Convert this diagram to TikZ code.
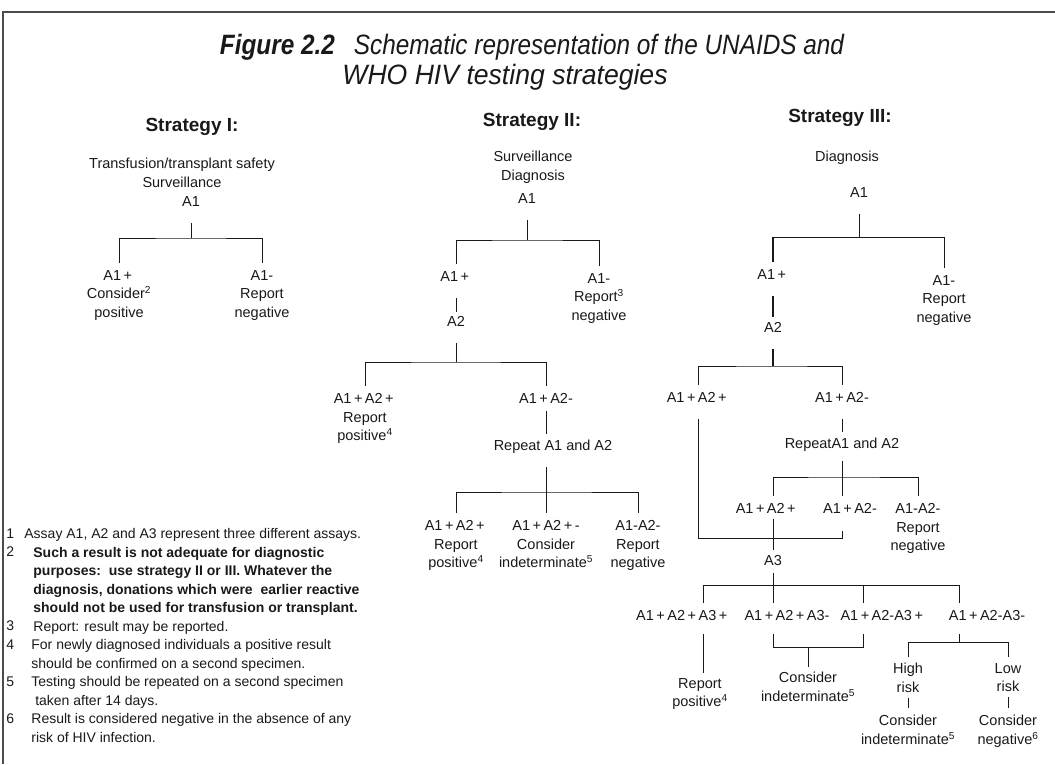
\documentclass[tikz,border=0pt]{standalone}
\usepackage{fontspec}
\setmainfont{Liberation Sans}
\newcommand{\aplus}{\kern2.5pt+\kern2.5pt}

\begin{document}
\begin{tikzpicture}[x=1pt,y=-1pt,line width=0.8pt,color=black!90,
  lbl/.style={inner sep=0pt,align=center,anchor=north,text depth=4pt,font=\fontsize{14.5}{18.5}\selectfont},
  head/.style={inner sep=0pt,font=\fontsize{19}{22}\selectfont\bfseries},
  note/.style={inner sep=0pt,anchor=north west,align=left,font=\fontsize{14}{18.5}\selectfont},
  stem/.style={shorten <=12pt},
  branch/.style={shorten <=7pt,shorten >=7pt}]
\useasboundingbox (0,0) rectangle (1055,764);
\draw[line width=1.5pt,black!70] (1055,12) -- (3,12) -- (3,764);

% title
\node[anchor=base,inner sep=0pt] (title1) at (532,54) {\fontsize{28}{32}\selectfont\itshape\scalebox{0.87}[1]{\textbf{Figure 2.2}\hspace{0.5em} Schematic representation of the UNAIDS and}};
\node[anchor=base,inner sep=0pt] (title2) at (505,84) {\fontsize{28}{32}\selectfont\itshape\scalebox{0.95}[1]{WHO HIV testing strategies}};

% strategy I
\node[head] (h1) at (192,127) {Strategy I:};
\node[lbl] (s1use) at (182,158) {Transfusion/transplant safety\\Surveillance};
\node[lbl] (s1a1) at (191,196) {A1};
\coordinate (s1j) at (191,238);
\node[lbl] (s1pos) at (119,270) {A1\aplus\\Consider\textsuperscript{2}\\positive};
\node[lbl] (s1neg) at (262,270) {A1-\\Report\\negative};
\draw[stem] (s1a1) -- (s1j);
\draw[branch] (s1pos) |- (s1j) -| (s1neg);

% strategy II
\node[head] (h2) at (532,122) {Strategy II:};
\node[lbl] (s2use) at (533,151) {Surveillance\\Diagnosis};
\node[lbl] (s2a1) at (527,193) {A1};
\coordinate (s2j1) at (527,240);
\node[lbl] (s2pos) at (456,271) {A1\aplus};
\node[lbl] (s2neg) at (599,273) {A1-\\Report\textsuperscript{3}\\negative};
\node[lbl] (s2a2) at (456,316) {A2};
\coordinate (s2j2) at (456,362);
\node[lbl] (s2pp) at (365,393) {A1\aplus A2\aplus\\Report\\positive\textsuperscript{4}};
\node[lbl] (s2pm) at (546,393) {A1\aplus A2-};
\node[lbl] (s2rep) at (553,440) {Repeat A1 and A2};
\coordinate (s2j3) at (546,492);
\node[lbl] (s2r1) at (456,520) {A1\aplus A2\aplus\\Report\\positive\textsuperscript{4}};
\node[lbl] (s2r2) at (546,520) {A1\aplus A2\aplus-\\Consider\\indeterminate\textsuperscript{5}};
\node[lbl] (s2r3) at (638,520) {A1-A2-\\Report\\negative};
\draw[stem] (s2a1) -- (s2j1);
\draw[branch] (s2pos) |- (s2j1) -| (s2neg);
\draw[stem,shorten >=4pt] (s2pos) -- (s2a2);
\draw[stem] (s2a2) -- (s2j2);
\draw[branch] (s2pp) |- (s2j2) -| (s2pm);
\draw[shorten <=3pt,shorten >=6pt] (s2pm) -- (s2pm |- s2rep.north);
\draw[stem,shorten >=7pt] (s2rep.south -| s2j3) -- (s2r2);
\draw[branch] (s2r1) |- (s2j3) -| (s2r3);

% strategy III
\node[head] (h3) at (840,118) {Strategy III:};
\node[lbl] (s3use) at (847,151) {Diagnosis};
\node[lbl] (s3a1) at (859,187) {A1};
\coordinate (s3j1) at (859,237);
\node[lbl] (s3pos) at (773,269) {A1\aplus};
\node[lbl] (s3neg) at (944,275) {A1-\\Report\\negative};
\node[lbl] (s3a2) at (773,322) {A2};
\coordinate (s3j2) at (773,366);
\node[lbl] (s3pp) at (698,392) {A1\aplus A2\aplus};
\node[lbl] (s3pm) at (842,392) {A1\aplus A2-};
\node[lbl] (s3rep) at (842,438) {RepeatA1 and A2};
\coordinate (s3j3) at (842,477);
\node[lbl] (s3q1) at (767,503) {A1\aplus A2\aplus};
\node[lbl] (s3q2) at (850,503) {A1\aplus A2-};
\node[lbl] (s3q3) at (918,503) {A1-A2-\\Report\\negative};
\coordinate (s3merge) at (842,538);
\node[lbl] (s3a3) at (773,555) {A3};
\coordinate (s3j4) at (773,585);
\coordinate (s3d1) at (703,585);
\coordinate (s3d3) at (863,585);
\coordinate (s3d4) at (959,585);
\node[lbl] (s3t1) at (683,610) {A1\aplus A2\aplus A3\aplus};
\node[lbl] (s3t2) at (787,610) {A1\aplus A2\aplus A3-};
\node[lbl] (s3t3) at (883,610) {A1\aplus A2-A3\aplus};
\node[lbl] (s3t4) at (987,610) {A1\aplus A2-A3-};
\node[lbl] (s3rp) at (700,678) {Report\\positive\textsuperscript{4}};
\coordinate (s3k) at (808,647);
\node[lbl] (s3ci) at (808,672) {Consider\\indeterminate\textsuperscript{5}};
\coordinate (s3h) at (959,642);
\node[lbl] (s3hi) at (908,663) {High\\risk};
\node[lbl] (s3lo) at (1008,663) {Low\\risk};
\node[lbl] (s3hic) at (908,715) {Consider\\indeterminate\textsuperscript{5}};
\node[lbl] (s3loc) at (1008,715) {Consider\\negative\textsuperscript{6}};

\draw[stem] (s3a1) -- (s3j1);
\draw[shorten <=7pt,line width=1.5pt] (s3pos) -- (s3pos |- s3j1);
\draw[shorten >=7pt] (s3pos |- s3j1) -| (s3neg);
\draw[stem,shorten >=5pt,line width=1.5pt] (s3pos) -- (s3a2);
\draw[stem,line width=1.5pt] (s3a2) -- (s3j2);
\draw[branch] (s3pp) |- (s3j2) -| (s3pm);
\draw[stem,shorten >=6pt] (s3pm) -- (s3rep);
\draw[shorten <=8pt,shorten >=7pt] (s3rep) -- (s3rep |- s3q2.north);
\draw[branch] (s3q1.north -| s3j2) |- (s3j3) -| (s3q3);
\draw[stem,shorten >=13pt] (s3pp) |- (s3merge) -- (s3merge |- s3q2.south);
\draw[shorten <=1pt,shorten >=5pt] (s3q1.south -| s3j2) -- (s3a3);
\draw[shorten <=3pt,shorten >=7pt] (s3a3) -- (s3t2.north -| s3j4);
\draw[branch] (s3t1.north -| s3d1) |- (s3j4) -- (s3d4) -- (s3t4.north -| s3d4);
\draw[shorten >=7pt] (s3d3) -- (s3t3.north -| s3d3);
\draw[shorten <=9pt,shorten >=5pt] (s3t1.south -| s3d1) -- (s3rp.north -| s3d1);
\draw[shorten <=9pt,shorten >=9pt] (s3t2.south -| s3j4) |- (s3k) -| (s3t3.south -| s3d3);
\draw[shorten >=5pt] (s3k) -- (s3ci);
\draw[shorten <=9pt] (s3t4.south -| s3d4) -- (s3h);
\draw[shorten <=6pt,shorten >=6pt] (s3hi) |- (s3h) -| (s3lo);
\draw[shorten <=1pt,shorten >=7pt] (s3hi) -- (s3hic);
\draw[shorten <=1pt,shorten >=7pt] (s3lo) -- (s3loc);

% footnotes
\node[note] (n1) at (6,528) {1};
\node[note] (f1) at (24,528) {Assay A1, A2 and A3 represent three different assays.};
\node[note] (n2) at (6,546.5) {2};
\node[note,font=\fontsize{14}{18.5}\selectfont\bfseries] (f2) at (33,546.5) {Such a result is not adequate for diagnostic\\purposes:\ \ use strategy II or III. Whatever the\\diagnosis, donations which were\ \ earlier reactive\\should not be used for transfusion or transplant.};
\node[note] (n3) at (6,620.5) {3};
\node[note] (f3) at (33,620.5) {Report: result may be reported.};
\node[note] (n4) at (6,639) {4};
\node[note] (f4) at (31,639) {For newly diagnosed individuals a positive result\\should be confirmed on a second specimen.};
\node[note] (n5) at (6,676) {5};
\node[note] (f5) at (31,676) {Testing should be repeated on a second specimen\\\ taken after 14 days.};
\node[note] (n6) at (6,713) {6};
\node[note] (f6) at (31,713) {Result is considered negative in the absence of any\\risk of HIV infection.};
\end{tikzpicture}
\end{document}
